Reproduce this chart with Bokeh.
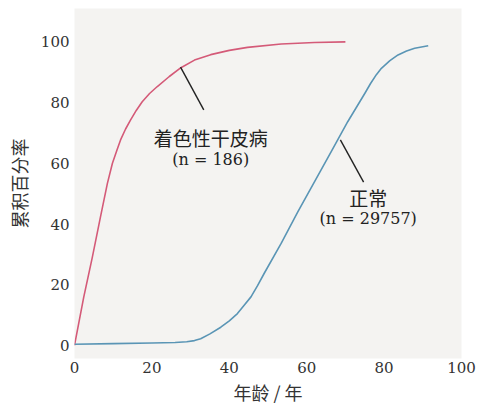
from bokeh.plotting import figure
from bokeh.core.properties import value
from bokeh.embed import file_html
from bokeh.resources import INLINE

# Xeroderma pigmentosum cumulative percentage
xp_age = [0, 2.4, 4.6, 6.7, 8.5, 9.8, 11, 11.9, 13.2, 14.5, 16, 17.5, 19.4, 21.4, 24.5, 27.5, 31, 35.2, 40, 44.7, 53.4, 62, 70]
xp_pct = [0, 16, 29, 42.3, 53.4, 60, 64.5, 67.7, 71.3, 74.3, 77.5, 80.3, 83, 85.3, 88.6, 91.5, 94, 95.8, 97.2, 98.2, 99.3, 99.8, 100]

# Normal population cumulative percentage
nm_age = [0, 10, 20, 26, 29, 31, 32.6, 35, 37.8, 40, 42.1, 44, 45.6, 47.3, 49, 53.4, 57.7, 62, 66.3, 70.6, 75, 76.5, 78, 79.3, 81.5, 83.6, 85.8, 87.9, 91.4]
nm_pct = [0.4, 0.6, 0.8, 0.95, 1.2, 1.6, 2.2, 3.8, 6, 8.1, 10.5, 13.5, 16, 19.7, 23.7, 33.6, 44, 53.9, 63.8, 73.7, 83, 86.3, 89.2, 91.3, 93.8, 95.7, 97, 97.9, 98.7]

x_ticks = [0, 20, 40, 60, 80, 100]
y_ticks = [0, 20, 40, 60, 80, 100]

xp_name = "着色性干皮病"
xp_n = "(n = 186)"
nm_name = "正常"
nm_n = "(n = 29757)"

# leader line endpoints (data coords)
xp_lead_x = [27.4, 33.4]
xp_lead_y = [91.7, 77.6]
nm_lead_x = [68.7, 74.7]
nm_lead_y = [67.7, 53.8]

p = figure(width=487, height=409, x_range=(0, 100), y_range=(-4.3, 111),
           output_backend="svg", toolbar_location=None,
           min_border_left=74, min_border_right=26, min_border_top=8, min_border_bottom=51)
p.background_fill_color = "#f4f3f1"
p.border_fill_color = "white"
p.outline_line_color = None
p.xgrid.visible = False
p.ygrid.visible = False

p.line(xp_age, xp_pct, line_color="#d45a78", line_width=1.6, line_join="round")
p.line(nm_age, nm_pct, line_color="#5a95b5", line_width=1.6, line_join="round")

p.line(xp_lead_x, xp_lead_y, line_color="#222222", line_width=1.4)
p.line(nm_lead_x, nm_lead_y, line_color="#222222", line_width=1.4)

cjk = value("Noto Sans CJK SC")
serif = value("DejaVu Serif")
p.text(x=[35.2], y=[68.6], text=[xp_name], text_font=cjk, text_font_size="19px",
       text_align="center", text_baseline="middle", text_color="#222222")
p.text(x=[35.2], y=[61.4], text=[xp_n], text_font=serif, text_font_size="16px",
       text_align="center", text_baseline="middle", text_color="#222222")
p.text(x=[75.9], y=[48.8], text=[nm_name], text_font=cjk, text_font_size="19px",
       text_align="center", text_baseline="middle", text_color="#222222")
p.text(x=[75.9], y=[41.9], text=[nm_n], text_font=serif, text_font_size="16px",
       text_align="center", text_baseline="middle", text_color="#222222")

for ax in (p.xaxis[0], p.yaxis[0]):
    ax.axis_line_color = None
    ax.major_tick_line_color = None
    ax.minor_tick_line_color = None
    ax.major_tick_in = 0
    ax.major_tick_out = 0
    ax.major_label_text_font = "DejaVu Serif"
    ax.major_label_text_font_size = "15px"
    ax.major_label_text_font_style = "normal"
    ax.major_label_text_color = "#333333"
    ax.axis_label_text_font = "Noto Sans CJK SC"
    ax.axis_label_text_font_size = "18px"
    ax.axis_label_text_font_style = "normal"
    ax.axis_label_text_color = "#333333"

p.xaxis.ticker = x_ticks
p.yaxis.ticker = y_ticks
p.xaxis.axis_label = "年龄 / 年"
p.yaxis.axis_label = "累积百分率"
p.xaxis.major_label_standoff = 3
p.yaxis.major_label_standoff = 5
p.xaxis.axis_label_standoff = 3
p.yaxis.axis_label_standoff = 6

open("out.html", "w").write(file_html(p, INLINE))
